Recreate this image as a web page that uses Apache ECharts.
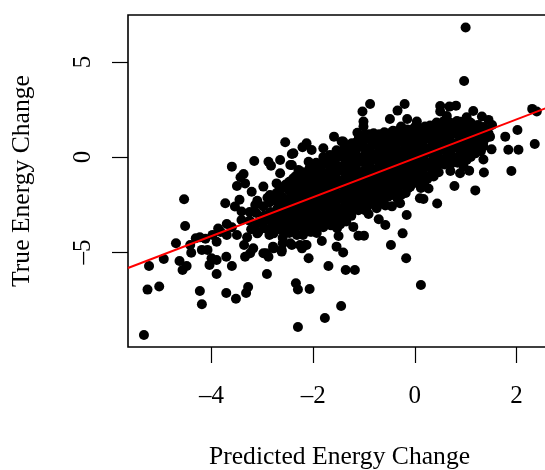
<!DOCTYPE html>
<html><head><meta charset="utf-8">
<style>html,body{margin:0;padding:0;background:#fff;overflow:hidden}#c{width:545px;height:470px}</style>
<script src="https://cdn.jsdelivr.net/npm/echarts@6/dist/echarts.min.js"></script>
</head><body><div id="c"></div>
<script>
const xTicks=[-4,-2,0,2];
const yTicks=[-5,0,5];
const fitX=[-5.644,2.68];
const fitY=[-5.84,2.67];
const leftPoints=[[-5.33,-9.37],[-5.26,-6.98],[-5.03,-6.82],[-5.23,-5.74],[-4.94,-5.37],[-4.70,-4.54],[-4.54,-2.23],[-4.52,-3.63],[-4.63,-5.47],[-4.49,-5.74],[-4.57,-5.95],[-4.40,-5.04],[-4.23,-7.05],[-4.19,-7.75],[-4.31,-4.28],[-4.23,-4.23],[-4.42,-4.63],[-4.12,-4.3],[-4.19,-4.89],[-4.08,-4.89],[-4.04,-5.68],[-4.0,-5.33],[-3.90,-6.16],[-3.90,-5.42],[-3.71,-5.25],[-3.60,-5.74],[-3.71,-7.16],[-3.52,-7.46],[-3.32,-7.16],[-3.28,-6.84],[-2.91,-6.16],[-2.34,-6.65],[-2.30,-6.97],[-2.07,-6.95],[-2.30,-8.95],[-2.09,-5.33],[-3.60,-0.51],[-3.16,-0.21],[-2.88,-0.25],[-2.83,-0.46],[-3.37,-0.90],[-3.43,-1.07],[-3.50,-1.53],[-3.34,-1.39],[-3.21,-1.83],[-2.98,-1.56],[-3.73,-2.44],[-3.54,-2.61],[-3.45,-2.25],[-3.14,-2.53],[-3.41,-2.87],[-3.41,-3.32],[-3.87,-3.76],[-3.70,-3.53],[-3.70,-4.11],[-3.90,-4.46],[-3.50,-4.11],[-3.30,-4.23],[-3.36,-4.63],[-3.18,-4.81],[-3.34,-5.25],[-3.24,-5.07],[-3.10,-4.02],[-2.93,-5.07],[-2.78,-4.81],[-2.88,-5.25],[-2.60,-4.54],[-2.62,-4.89],[-2.42,-4.63],[-2.22,-4.81],[-2.16,-4.63],[-2.78,-4.02],[-2.57,-3.84],[-2.36,-3.84],[-2.03,-3.93],[-2.65,-0.86],[-2.72,-1.39],[-2.39,-1.12],[-2.65,-0.16],[-2.42,0.16],[-2.42,-0.42],[-3.98,-4.1],[-3.82,-3.95],[-3.6,-3.7]];
const upperPoints=[[1.00,6.81],[0.97,4.0],[-0.88,2.79],[-1.03,2.39],[-1.01,1.86],[-1.01,1.60],[-0.20,2.79],[-0.34,2.44],[-0.49,2.0],[-0.15,2.0],[0.04,1.86],[0.01,1.6],[0.50,2.68],[0.68,2.65],[0.81,2.70],[0.50,2.39],[0.63,2.16],[1.15,2.42],[1.02,2.09],[0.83,1.89],[0.43,1.81],[1.32,2.13],[1.45,1.95],[1.52,1.68],[1.25,1.68],[1.48,1.07],[1.51,0.40],[1.78,1.07],[2.02,1.42],[1.84,0.38],[2.04,0.38],[2.36,0.68],[2.31,2.53],[2.40,2.39],[1.90,-0.74],[1.35,-0.13],[1.36,-0.82],[1.07,-0.72],[0.89,-0.86],[0.70,-0.74],[0.78,-1.53],[1.19,-1.76],[0.44,-2.45],[0.17,-2.21],[0.27,-1.66],[0.12,-1.63],[0.37,-1.03],[1.02,-0.16],[0.96,-0.50],[1.19,0.19],[1.02,0.37],[-1.13,1.27],[-1.59,1.07],[-1.80,0.46],[-1.44,0.81],[-1.24,0.72],[-0.98,1.16],[-0.82,1.16],[-0.43,1.38],[-0.27,1.6],[-0.62,0.8],[0.37,1.27],[0.56,1.87],[0.96,1.68],[1.35,1.58],[-2.55,0.77],[-2.13,0.72],[-2.21,0.51],[-2.03,0.37],[-1.80,0.0],[-2.09,-0.25],[-2.29,-0.68],[-2.45,-0.42],[-2.39,0.19],[-1.41,0.81],[-0.94,1.07],[-0.81,1.25],[-0.42,1.33],[-0.28,1.5]];
const lowerPoints=[[-1.77,-8.47],[-1.45,-7.84],[-1.70,-5.74],[-1.36,-5.95],[-1.18,-5.95],[-1.41,-5.03],[-1.54,-4.72],[-1.83,-4.42],[-1.50,-4.16],[-1.11,-4.14],[-1.0,-4.14],[-0.47,-4.63],[-0.24,-4.02],[-0.17,-5.33],[0.12,-6.74],[-0.58,-3.58],[-0.71,-3.28],[-0.16,-3.05],[-0.91,-3.0],[-1.21,-3.68],[-1.35,-3.4],[-2.06,-3.94],[-2.26,-4.63],[-2.13,-4.63],[-2.45,-4.54],[-2.62,-4.98],[-2.79,-4.72],[-2.98,-5.07],[-1.11,-2.8],[0.10,-2.17],[-0.29,-2.44],[-0.09,-1.56],[-0.45,-2.6],[-0.75,-2.7]];
const corePoints=[
[-3.25,-2.9],[-3.25,-3.35],[-3.22,-3.8],
[-3.1,-2.3],[-3.12,-2.95],[-3.1,-3.5],[-3.08,-3.95],
[-2.98,-2.6],[-2.97,-3.1],[-2.99,-3.4],[-2.96,-3.75],
[-2.85,-2.0],[-2.86,-2.4],[-2.84,-2.9],[-2.85,-3.3],[-2.83,-3.7],[-2.86,-4.1],
[-2.72,-1.9],[-2.73,-2.3],[-2.7,-2.7],[-2.72,-3.0],[-2.71,-3.4],[-2.7,-3.8],
[-2.6,-1.6],[-2.61,-2.1],[-2.58,-2.5],[-2.6,-2.85],[-2.59,-3.2],[-2.61,-3.55],[-2.58,-3.95],[-2.6,-4.25],
[-2.47,-1.3],[-2.48,-1.75],[-2.46,-2.15],[-2.47,-2.55],[-2.45,-2.9],[-2.48,-3.25],[-2.46,-3.6],[-2.47,-4.0],
[-2.34,-1.0],[-2.35,-1.45],[-2.33,-1.85],[-2.34,-2.25],[-2.32,-2.6],[-2.35,-2.95],[-2.33,-3.3],[-2.34,-3.7],[-2.32,-4.1],
[-2.2,-0.8],[-2.21,-1.2],[-2.19,-1.6],[-2.2,-2.0],[-2.18,-2.35],[-2.21,-2.7],[-2.19,-3.05],[-2.2,-3.4],[-2.18,-3.75],[-2.2,-4.1],
[-2.07,-0.6],[-2.08,-1.0],[-2.06,-1.35],[-2.07,-1.75],[-2.05,-2.1],[-2.08,-2.45],[-2.06,-2.8],[-2.07,-3.15],[-2.05,-3.5],
[-1.94,-0.3],[-1.95,-0.75],[-1.93,-1.15],[-1.94,-1.5],[-1.92,-1.9],[-1.95,-2.25],[-1.93,-2.6],[-1.94,-2.95],[-1.92,-3.3],[-1.94,-3.7],[-1.93,-4.0],
[-1.8,-0.4],[-1.81,-0.8],[-1.79,-1.2],[-1.8,-1.55],[-1.78,-1.95],[-1.81,-2.3],[-1.79,-2.65],[-1.8,-3.0],[-1.78,-3.35],[-1.8,-3.7],
[-1.67,0.1],[-1.68,-0.3],[-1.66,-0.7],[-1.67,-1.05],[-1.65,-1.4],[-1.68,-1.8],[-1.66,-2.15],[-1.67,-2.5],[-1.65,-2.85],[-1.67,-3.2],[-1.65,-3.6],
[-1.54,0.35],[-1.55,-0.05],[-1.53,-0.45],[-1.54,-0.8],[-1.52,-1.2],[-1.55,-1.55],[-1.53,-1.95],[-1.54,-2.3],[-1.52,-2.65],[-1.54,-3.0],[-1.52,-3.4],[-1.53,-3.75],
[-1.4,0.4],[-1.41,0.0],[-1.39,-0.4],[-1.4,-0.75],[-1.38,-1.1],[-1.41,-1.5],[-1.39,-1.85],[-1.4,-2.2],[-1.38,-2.55],[-1.4,-2.9],[-1.38,-3.2],
[-1.27,0.55],[-1.28,0.15],[-1.26,-0.2],[-1.27,-0.6],[-1.25,-0.95],[-1.28,-1.3],[-1.26,-1.7],[-1.27,-2.05],[-1.25,-2.4],[-1.27,-2.75],[-1.25,-3.1],
[-1.14,0.8],[-1.15,0.4],[-1.13,0.0],[-1.14,-0.35],[-1.12,-0.75],[-1.15,-1.1],[-1.13,-1.5],[-1.14,-1.85],[-1.12,-2.2],[-1.14,-2.55],
[-1.0,0.9],[-1.01,0.5],[-0.99,0.1],[-1.0,-0.25],[-0.98,-0.65],[-1.01,-1.0],[-0.99,-1.35],[-1.0,-1.75],[-0.98,-2.1],[-1.0,-2.45],[-0.98,-2.8],
[-0.87,0.9],[-0.88,0.5],[-0.86,0.15],[-0.87,-0.2],[-0.85,-0.6],[-0.88,-0.95],[-0.86,-1.3],[-0.87,-1.7],[-0.85,-2.05],[-0.87,-2.4],
[-0.74,1.0],[-0.75,0.6],[-0.73,0.2],[-0.74,-0.15],[-0.72,-0.55],[-0.75,-0.9],[-0.73,-1.25],[-0.74,-1.6],[-0.72,-1.95],[-0.74,-2.3],
[-0.6,1.15],[-0.61,0.75],[-0.59,0.35],[-0.6,0.0],[-0.58,-0.4],[-0.61,-0.75],[-0.59,-1.1],[-0.6,-1.5],[-0.58,-1.85],[-0.6,-2.2],[-0.58,-2.55],
[-0.47,0.95],[-0.48,0.55],[-0.46,0.2],[-0.47,-0.2],[-0.45,-0.55],[-0.48,-0.9],[-0.46,-1.3],[-0.47,-1.65],[-0.45,-2.0],
[-0.34,1.15],[-0.35,0.75],[-0.33,0.35],[-0.34,0.0],[-0.32,-0.4],[-0.35,-0.75],[-0.33,-1.1],[-0.34,-1.5],[-0.32,-1.85],[-0.34,-2.2],
[-0.2,1.1],[-0.21,0.7],[-0.19,0.35],[-0.2,-0.05],[-0.18,-0.4],[-0.21,-0.75],[-0.19,-1.15],[-0.2,-1.5],[-0.18,-1.9],
[-0.07,1.25],[-0.08,0.85],[-0.06,0.45],[-0.07,0.1],[-0.05,-0.3],[-0.08,-0.65],[-0.06,-1.0],[-0.07,-1.35],
[0.06,1.2],[0.05,0.8],[0.07,0.4],[0.06,0.05],[0.08,-0.3],[0.05,-0.7],[0.07,-1.05],[0.06,-1.4],
[0.19,1.3],[0.18,0.9],[0.2,0.5],[0.19,0.15],[0.21,-0.25],[0.18,-0.6],[0.2,-1.0],[0.19,-1.3],
[0.32,1.35],[0.31,0.95],[0.33,0.55],[0.32,0.2],[0.34,-0.2],[0.31,-0.55],[0.33,-0.9],
[0.46,1.4],[0.45,1.0],[0.47,0.65],[0.46,0.25],[0.48,-0.1],[0.45,-0.45],[0.47,-0.8],
[0.59,1.5],[0.58,1.1],[0.6,0.7],[0.59,0.35],[0.61,-0.05],[0.58,-0.4],
[0.72,1.55],[0.71,1.15],[0.73,0.75],[0.72,0.4],[0.74,0.0],[0.71,-0.35],
[0.85,1.55],[0.84,1.2],[0.86,0.8],[0.85,0.45],[0.87,0.05],[0.84,-0.3],
[0.98,1.3],[0.97,0.9],[0.99,0.5],[0.98,0.15],
[1.11,1.45],[1.1,1.05],[1.12,0.7],[1.11,0.35],
[1.24,1.35],[1.23,0.95],[1.25,0.6],
[1.36,1.2],[1.35,0.8]
];
const coreFill=[
[-2.9,-2.15],[-2.78,-2.1],[-2.66,-1.75],[-2.54,-1.45],[-2.53,-3.4],[-2.4,-1.2],[-2.4,-3.1],[-2.27,-0.95],[-2.27,-1.65],[-2.27,-2.45],[-2.27,-3.5],[-2.13,-1.4],[-2.13,-2.2],[-2.13,-2.95],[-2.13,-3.6],[-2.0,-0.85],[-2.0,-1.6],[-2.0,-2.35],[-2.0,-3.1],[-1.87,-0.55],[-1.87,-1.35],[-1.87,-2.05],[-1.87,-2.8],[-1.87,-3.5],[-1.74,-0.15],[-1.74,-0.95],[-1.74,-1.7],[-1.74,-2.45],[-1.74,-3.15],[-1.6,-0.5],[-1.6,-1.25],[-1.6,-2.0],[-1.6,-2.7],[-1.6,-3.4],[-1.47,0.15],[-1.47,-0.6],[-1.47,-1.35],[-1.47,-2.1],[-1.47,-2.8],[-1.47,-3.55],[-1.34,-0.2],[-1.34,-0.95],[-1.34,-1.7],[-1.34,-2.4],[-1.34,-3.05],[-1.2,0.35],[-1.2,-0.4],[-1.2,-1.15],[-1.2,-1.9],[-1.2,-2.6],[-1.07,0.7],[-1.07,-0.05],[-1.07,-0.85],[-1.07,-1.6],[-1.07,-2.3],[-0.93,0.3],[-0.93,-0.45],[-0.93,-1.15],[-0.93,-1.9],[-0.93,-2.6],[-0.8,0.75],[-0.8,0.0],[-0.8,-0.75],[-0.8,-1.45],[-0.8,-2.2],[-0.67,0.4],[-0.67,-0.35],[-0.67,-1.05],[-0.67,-1.8],[-0.67,-2.45],[-0.53,0.9],[-0.53,0.15],[-0.53,-0.6],[-0.53,-1.35],[-0.53,-2.1],[-0.4,0.55],[-0.4,-0.15],[-0.4,-0.95],[-0.4,-1.7],[-0.27,0.95],[-0.27,0.2],[-0.27,-0.55],[-0.27,-1.3],[-0.27,-2.0],[-0.13,0.55],[-0.13,-0.2],[-0.13,-0.9],[-0.13,-1.65],[0.0,1.0],[0.0,0.25],[0.0,-0.5],[0.0,-1.2],[0.13,0.6],[0.13,-0.1],[0.13,-0.85],[0.25,1.1],[0.25,0.35],[0.25,-0.4],[0.25,-1.15],[0.39,0.75],[0.39,0.0],[0.39,-0.7],[0.52,1.2],[0.52,0.45],[0.52,-0.25],[0.65,0.9],[0.65,0.15],[0.78,1.35],[0.78,0.6],[0.78,-0.15],[0.92,1.0],[0.92,0.25],[0.92,-0.1],[1.05,1.2],[1.05,0.55],[1.18,1.2],[1.18,0.8],[1.3,1.05]
];
const topEdge=[[0.1,1.5],[0.2,1.6],[0.3,1.65],[0.45,1.7],[0.6,1.75],[0.7,1.8],[0.8,1.75],[0.9,1.85],[1.0,1.85],[1.1,1.8],[1.2,1.65],[1.3,1.5],[1.4,1.4],[1.45,1.25],[1.4,1.0],[1.35,0.55],[1.3,0.3],[1.2,0.45],[1.0,-0.1],[1.1,0.0],[-0.6,1.3],[-0.5,1.25],[-0.35,1.35],[-0.15,1.45],[-0.05,1.45],[0.1,1.4],[-1.1,1.0],[-0.9,1.2],[-0.7,1.2]];
const chart=echarts.init(document.getElementById('c'),null,{renderer:'canvas'});
const serif='"Liberation Serif","Times New Roman",serif';
const pts=[].concat(leftPoints,upperPoints,lowerPoints,corePoints,coreFill,topEdge);
chart.setOption({
 animation:false,
 backgroundColor:'#fff',
 grid:{left:128,top:15,width:423,height:332,show:true,borderColor:'#000',borderWidth:1.6,backgroundColor:'transparent',outerBoundsMode:'none'},
 xAxis:{type:'value',min:-5.644,max:2.68,splitLine:{show:false},
  axisLine:{show:false,onZero:false},
  axisTick:{show:true,length:16,customValues:xTicks,lineStyle:{color:'#000',width:1.2}},
  axisLabel:{customValues:xTicks,margin:37,fontFamily:serif,fontSize:25,color:'#000',formatter:v=>String(v).replace('-','\u2013')},
  name:'Predicted Energy Change',nameLocation:'middle',nameGap:97,nameTextStyle:{fontFamily:serif,fontSize:25.6,color:'#000'}},
 yAxis:{type:'value',min:-10,max:7.47,splitLine:{show:false},
  axisLine:{show:false,onZero:false},
  axisTick:{show:true,length:16,customValues:yTicks,lineStyle:{color:'#000',width:1.2}},
  axisLabel:{customValues:yTicks,margin:32,rotate:90,fontFamily:serif,fontSize:25,color:'#000',formatter:v=>String(v).replace('-','\u2013')},
  name:'True Energy Change',nameLocation:'middle',nameGap:93,nameRotate:90,nameTextStyle:{fontFamily:serif,fontSize:25.6,color:'#000'}},
 series:[
  {type:'scatter',data:pts,symbol:'circle',symbolSize:10,itemStyle:{color:'#000',opacity:1},clip:true,silent:true},
  {type:'line',data:fitX.map((x,i)=>[x,fitY[i]]),symbol:'none',lineStyle:{color:'#ff0000',width:2},clip:true,silent:true,z:5}
 ]
});
</script></body></html>
